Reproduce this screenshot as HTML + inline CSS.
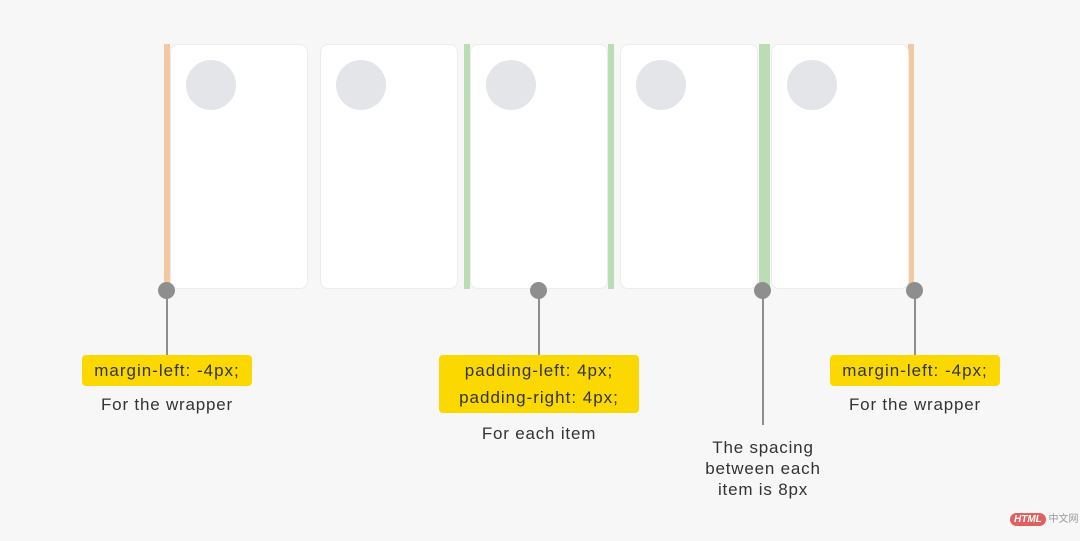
<!DOCTYPE html>
<html><head><meta charset="utf-8"><style>
body{margin:0;width:1080px;height:541px;background:#f7f7f7;position:relative;overflow:hidden;font-family:"Liberation Sans","Noto Sans CJK SC",sans-serif;color:#333}
.card{position:absolute;top:44px;width:138px;height:245px;background:#fff;border:1px solid #ececec;border-radius:8px;box-sizing:border-box}
.circ{position:absolute;left:15px;top:15px;width:50px;height:50px;border-radius:50%;background:#e3e5e9}
.strip{position:absolute;top:44px;height:245px}
.dot{position:absolute;width:17px;height:17px;border-radius:50%;background:#8e8e8e;top:282px}
.ln{position:absolute;width:2px;background:#8e8e8e;top:290px}
.tag{position:absolute;background:#fbd800;border-radius:4px;font-size:17px;letter-spacing:1px;text-align:center;line-height:27px;padding:2px 0}
.txt{position:absolute;font-size:17px;letter-spacing:0.8px;text-align:center;line-height:21px}
</style></head><body>
<div class="strip" style="left:164px;width:6px;background:#f3c9a3"></div>
<div class="strip" style="left:908px;width:6px;background:#f3c9a3"></div>
<div class="strip" style="left:464px;width:6px;background:#bcdcb5"></div>
<div class="strip" style="left:608px;width:6px;background:#bcdcb5"></div>
<div class="strip" style="left:759px;width:11px;background:#bcdcb5"></div>
<div class="card" style="left:170px"><div class="circ"></div></div>
<div class="card" style="left:320px"><div class="circ"></div></div>
<div class="card" style="left:470px"><div class="circ"></div></div>
<div class="card" style="left:620px"><div class="circ"></div></div>
<div class="card" style="left:771px"><div class="circ"></div></div>

<div class="ln" style="left:166px;height:66px"></div>
<div class="ln" style="left:538px;height:66px"></div>
<div class="ln" style="left:762px;height:135px"></div>
<div class="ln" style="left:914px;height:66px"></div>
<div class="dot" style="left:158px"></div>
<div class="dot" style="left:530px"></div>
<div class="dot" style="left:754px"></div>
<div class="dot" style="left:906px"></div>

<div class="tag" style="left:82px;top:355px;width:170px">margin-left: -4px;</div>
<div class="txt" style="left:67px;top:394px;width:200px">For the wrapper</div>
<div class="tag" style="left:439px;top:355px;width:200px;line-height:27px">padding-left: 4px;<br>padding-right: 4px;</div>
<div class="txt" style="left:439px;top:423px;width:200px">For each item</div>
<div class="txt" style="left:673px;top:437px;width:180px">The spacing<br>between each<br>item is 8px</div>
<div class="tag" style="left:830px;top:355px;width:170px">margin-left: -4px;</div>
<div class="txt" style="left:815px;top:394px;width:200px">For the wrapper</div>

<div style="position:absolute;left:1010px;top:510px;font-size:10px;color:#999"><span style="background:#e06060;color:#fff;border-radius:8px;padding:1px 4px;font-style:italic;font-weight:bold">HTML</span> 中文网</div>
</body></html>
